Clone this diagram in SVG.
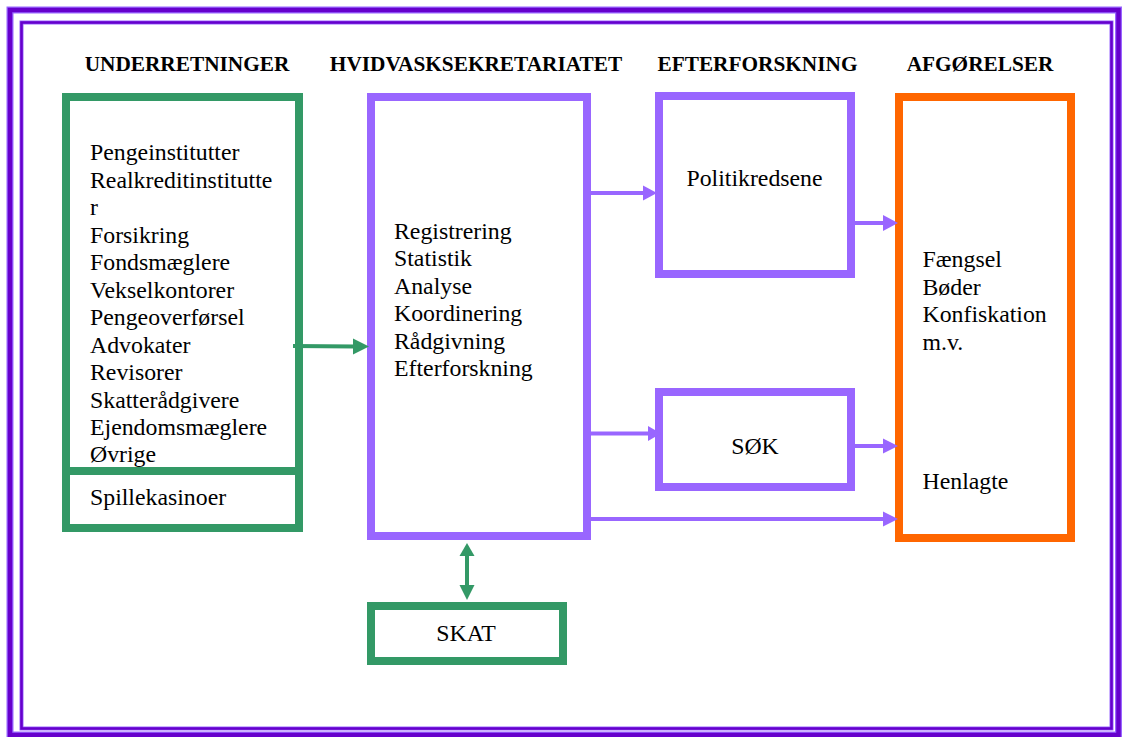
<svg xmlns="http://www.w3.org/2000/svg" width="1123" height="737" viewBox="0 0 1123 737">
<style>
  .hdr{font-family:"Liberation Serif","Times New Roman","DejaVu Serif",serif;font-weight:bold;font-size:21.3px;fill:#000;text-anchor:middle}
  .txt{font-family:"Liberation Serif","Times New Roman","DejaVu Serif",serif;font-size:23.8px;fill:#000}
  .mid{text-anchor:middle}
  .g{fill:none;stroke:#339966;stroke-width:8}
  .p{fill:none;stroke:#9966ff;stroke-width:8}
  .o{fill:none;stroke:#ff6600;stroke-width:8}
  .pl{stroke:#9966ff;stroke-width:4;fill:none}
  .gl{stroke:#339966;stroke-width:4;fill:none}
  .ph{fill:#9966ff}
  .gh{fill:#339966}
</style>
<rect width="1123" height="737" fill="#fff"/>
<g id="frame">
  <rect x="10" y="10" width="1108.5" height="725" fill="none" stroke="#9966ff" stroke-width="7"/>
  <rect x="10" y="10" width="1108.5" height="725" fill="none" stroke="#6600cc" stroke-width="4.5"/>
  <rect x="21.5" y="22.5" width="1090" height="706" fill="none" stroke="#9966ff" stroke-width="4"/>
  <rect x="21.5" y="22.5" width="1090" height="706" fill="none" stroke="#6600cc" stroke-width="2.5"/>
</g>
<g id="headers">
  <text class="hdr" x="187" y="71">UNDERRETNINGER</text>
  <text class="hdr" x="476" y="71">HVIDVASKSEKRETARIATET</text>
  <text class="hdr" x="757.5" y="71">EFTERFORSKNING</text>
  <text class="hdr" x="980" y="71">AFGØRELSER</text>
</g>
<g id="underretninger">
  <rect class="g" x="66" y="97" width="233" height="431"/>
  <line x1="66" y1="471" x2="299" y2="471" stroke="#339966" stroke-width="8"/>
  <text class="txt" x="90" y="160">Pengeinstitutter</text>
  <text class="txt" x="90" y="187.5">Realkreditinstitutte</text>
  <text class="txt" x="90" y="215">r</text>
  <text class="txt" x="90" y="242.5">Forsikring</text>
  <text class="txt" x="90" y="270">Fondsmæglere</text>
  <text class="txt" x="90" y="297.5">Vekselkontorer</text>
  <text class="txt" x="90" y="325">Pengeoverførsel</text>
  <text class="txt" x="90" y="352.5">Advokater</text>
  <text class="txt" x="90" y="380">Revisorer</text>
  <text class="txt" x="90" y="407.5">Skatterådgivere</text>
  <text class="txt" x="90" y="435">Ejendomsmæglere</text>
  <text class="txt" x="90" y="462">Øvrige</text>
  <text class="txt" x="90" y="505">Spillekasinoer</text>
</g>
<g id="sekretariat">
  <rect class="p" x="371" y="97" width="216" height="439"/>
  <text class="txt" x="394" y="238.5">Registrering</text>
  <text class="txt" x="394" y="266">Statistik</text>
  <text class="txt" x="394" y="293.5">Analyse</text>
  <text class="txt" x="394" y="321">Koordinering</text>
  <text class="txt" x="394" y="348.5">Rådgivning</text>
  <text class="txt" x="394" y="376">Efterforskning</text>
</g>
<g id="politikredsene">
  <rect class="p" x="659" y="96" width="192" height="178"/>
  <text class="txt mid" x="754.5" y="186">Politikredsene</text>
</g>
<g id="sok">
  <rect class="p" x="659" y="392" width="192" height="95"/>
  <text class="txt mid" x="755" y="453.5">SØK</text>
</g>
<g id="afgorelser">
  <rect class="o" x="899" y="97" width="172" height="441"/>
  <text class="txt" x="922.5" y="267">Fængsel</text>
  <text class="txt" x="922.5" y="294.5">Bøder</text>
  <text class="txt" x="922.5" y="322">Konfiskation</text>
  <text class="txt" x="922.5" y="349.5">m.v.</text>
  <text class="txt" x="922.5" y="488.5">Henlagte</text>
</g>
<g id="skat">
  <rect class="g" x="371" y="606" width="192" height="55"/>
  <text class="txt mid" x="466" y="641">SKAT</text>
</g>
<g id="connectors">
  <line class="gl" x1="293" y1="346" x2="355" y2="346.5"/>
  <polygon class="gh" points="353,338.5 369,346.5 353,354.5"/>
  <line class="pl" x1="583" y1="193" x2="646" y2="193"/>
  <polygon class="ph" points="643,185.5 657,193 643,200.5"/>
  <line class="pl" x1="851" y1="223" x2="885" y2="223"/>
  <polygon class="ph" points="883,215 898,223 883,231"/>
  <line class="pl" x1="587" y1="433.5" x2="650" y2="433.5"/>
  <polygon class="ph" points="648,426 661,433.5 648,441"/>
  <line class="pl" x1="851" y1="446" x2="885" y2="446"/>
  <polygon class="ph" points="883,438.5 898,446 883,453.5"/>
  <line class="pl" x1="587" y1="519" x2="885" y2="519"/>
  <polygon class="ph" points="883,511.5 898,519 883,526.5"/>
  <line class="gl" x1="467" y1="553" x2="467" y2="588"/>
  <polygon class="gh" points="467,543 474.5,556 459.5,556"/>
  <polygon class="gh" points="459.5,585 474.5,585 467,600"/>
</g>
</svg>
